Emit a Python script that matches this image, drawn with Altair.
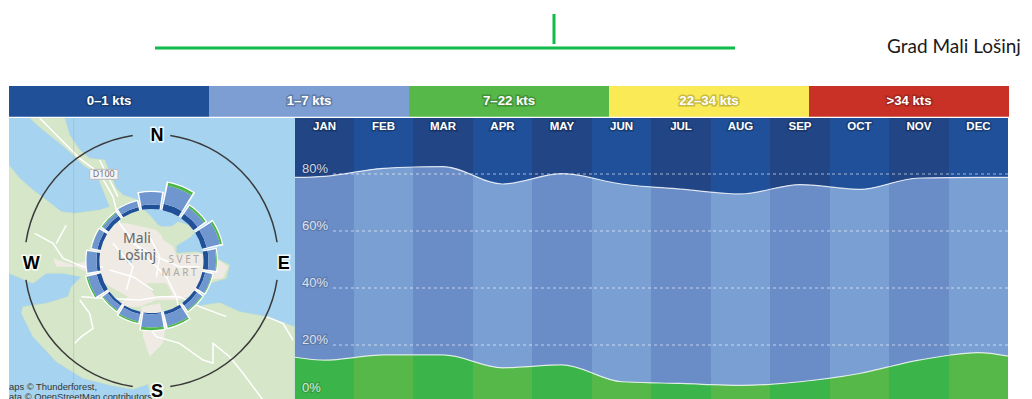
import altair as alt
import pandas as pd

# ---------- values ----------
months = ["JAN","FEB","MAR","APR","MAY","JUN","JUL","AUG","SEP","OCT","NOV","DEC"]
month_pos = [0.5,1,2,3,4,5,6,7,8,9,10,11,12,12.5]
upper_pct = [78.8,79.2,82.0,82.6,76.5,80.1,76.5,74.7,73.0,76.3,74.6,78.6,78.8,78.8]
green_pct = [15.7,14.7,16.5,16.5,12.0,13.0,7.1,6.5,5.8,7.1,10.0,14.7,17.3,16.1]
band_widths = [59,59,60,59,60,59,60,59,60,59,60,59]
grid_pct = [20,40,60,80]
pct_labels = ["0%","20%","40%","60%","80%"]
pct_label_y = [4.9,21.8,41.8,61.8,81.8]

legend_labels = ["0–1 kts","1–7 kts","7–22 kts","22–34 kts",">34 kts"]
legend_colors = ["#205097","#7c9ed2","#55b848","#faea55","#c93026"]

directions = ["N","NNE","NE","ENE","E","ESE","SE","SSE","S","SSW","SW","WSW","W","WNW","NW","NNW"]
rose_calm  = [4.5,6.5,5.5,5,5,3,3.5,3.5,1.2,2.5,2.5,4.5,3,3.5,4,3.5]
rose_light = [12.5,18.5,7.5,13.5,7.5,6.5,5.5,11.5,13.3,7.5,5.5,9,10,5.5,3.5,6]
rose_fresh = [0,3,2,2,0.8,0.8,1,1.8,2.7,1.5,1,1.5,0,0.3,1,0]

# map outlines, in a 3x drawing grid of the map tile
land_ring = [(90,24),(195,24),(210,75),(240,120),(270,145),(315,150),(335,200),(350,235),(370,255),(415,270),
    (430,298),(450,315),(475,345),(505,358),(535,335),(565,345),(585,370),(530,405),(530,430),(590,425),(640,440),
    (690,465),(680,505),(630,520),(600,555),(545,575),(580,590),(660,578),(720,605),(800,620),(885,650),(885,870),
    (455,870),(445,822),(400,838),(330,825),(250,805),(170,755),(100,680),(65,610),(70,590),(140,580),(205,560),
    (215,530),(245,500),(190,490),(140,490),(100,520),(28,490),(28,165),(60,205),(100,240),(140,270),(185,305),
    (225,310),(300,300),(330,290),(310,240),(290,190),(250,165),(215,130),(175,95),(130,60),(90,24)]
urban_ring = [(310,340),(380,340),(470,360),(520,410),(530,435),(600,430),(650,445),(685,470),(670,505),(620,510),
    (590,550),(540,570),(470,570),(420,590),(340,590),(310,560),(290,500),(230,470),(170,470),(160,445),(220,465),
    (300,440),(310,340)]
urban_south_ring = [(425,590),(480,580),(500,640),(490,700),(450,740),(430,680),(425,590)]
green_patches = [
    [(480,350),(590,345),(575,380),(525,410),(490,390),(480,350)],
    [(315,520),(385,560),(345,592),(300,565),(315,520)],
    [(440,520),(500,520),(520,555),(470,565),(440,520)],
]
pond_ring = [(380,445),(395,445),(398,458),(383,460),(380,445)]
sign_ring = [(270,178),(355,178),(355,208),(270,208),(270,178)]
roads = [
    [(120,24),(180,85),(240,145),(300,190),(340,260),(360,340),(420,420),(500,500),(530,560),(540,610)],
    [(300,150),(330,210),(355,260)],
    [(105,370),(160,400),(190,445),(250,470),(310,470)],
    [(240,570),(270,610),(280,655),(245,680),(225,700)],
    [(245,560),(310,565),(420,570),(480,560),(540,560),(600,590),(680,620)],
    [(440,640),(470,680),(540,700),(610,750),(640,760),(640,700),(690,740),(730,790),(790,870)],
    [(800,620),(850,640),(880,690)],
    [(400,400),(470,440),(540,470),(600,470)],
    [(330,480),(400,500),(460,540)],
    [(200,345),(170,400)],
    [(340,400),(400,470),(380,540)],
    [(450,380),(480,440),(470,500)],
]
seam = [[(222,24),(222,867)]]
map_labels = ["Mali","Lošinj","S V E T","M A R T","D100"]
map_label_x = [412,412,552,538,312]
map_label_y = [388,438,450,488,193]
map_label_size = [14,14,10,10,9]
map_label_color = ["#666666","#666666","#a9a9a9","#a9a9a9","#777777"]
compass = ["N","E","S","W"]
compass_x = [472,852,472,95]
compass_y = [77,462,845,462]
credit = ["aps © Thunderforest,","ata © OpenStreetMap contributors"]
credit_y = [832,860]

# ---------- map + rose panel ----------
MAP_W, MAP_H = 286, 281
proj = dict(type="identity", scale=1/3, translate=[-9.33, -8])

def geo(geometry):
    return alt.Data(values=[{"type": "Feature", "properties": {}, "geometry": geometry}])

def poly(*rings):
    return geo({"type": "MultiPolygon", "coordinates": [[[list(p) for p in r]] for r in rings]})

def lines(ls):
    return geo({"type": "MultiLineString", "coordinates": [[list(p) for p in l] for l in ls]})

water = alt.Chart(pd.DataFrame({"a":[0],"b":[1]})).mark_rect(color="#a6d3ef").encode(
    x=alt.value(0), x2=alt.value(MAP_W), y=alt.value(0), y2=alt.value(MAP_H))
land = alt.Chart(poly(land_ring)).mark_geoshape(fill="#d6e6c8", stroke="#cfe2c0", strokeWidth=0.5, clip=True).project(**proj)
urban = alt.Chart(poly(urban_ring, urban_south_ring)).mark_geoshape(fill="#efebe4", clip=True).project(**proj)
greens = alt.Chart(poly(*green_patches)).mark_geoshape(fill="#d6e6c8", clip=True).project(**proj)
pond = alt.Chart(poly(pond_ring)).mark_geoshape(fill="#a6d3ef", clip=True).project(**proj)
road = alt.Chart(lines(roads)).mark_geoshape(filled=False, stroke="#ffffff", strokeWidth=1.5, clip=True).project(**proj)
seam_l = alt.Chart(lines(seam)).mark_geoshape(filled=False, stroke="#7f9fb5", strokeWidth=0.6, strokeOpacity=0.5, clip=True).project(**proj)
sign = alt.Chart(poly(sign_ring)).mark_geoshape(fill="#f4f4f4", stroke="#bbbbbb", strokeWidth=1, clip=True).project(**proj)

ml = pd.DataFrame({"t":map_labels,"x":map_label_x,"y":map_label_y,"s":map_label_size,"c":map_label_color})
map_text = alt.Chart(ml).mark_text(font="Noto Sans").encode(
    longitude="x:Q", latitude="y:Q", text="t:N",
    size=alt.Size("s:Q", scale=None, legend=None), color=alt.Color("c:N", scale=None, legend=None)).project(**proj)

CX, CY = 142.5, 143
theta_s = alt.Scale(domain=[0,360], range=[0,6.28318])
rad_s = alt.Scale(type="linear", domain=[0,40], range=[52,92], clamp=False)

rows = []
for i,d in enumerate(directions):
    c = i*22.5 - 0.8
    a,b,g = rose_calm[i], rose_light[i], rose_fresh[i]
    rows.append(dict(d=d, t0=c-9.6, t1=c+9.6, h0=c-10.9, h1=c+10.9, r0=0, r1=a, r2=a+b, r3=a+b+g, halo=a+b+g+1.2))
rose = pd.DataFrame(rows)

def arc(df, color, t0, t1, r0, r1):
    return alt.Chart(df).mark_arc(color=color).encode(
        x=alt.value(CX), y=alt.value(CY),
        theta=alt.Theta(f"{t0}:Q", scale=theta_s, stack=None), theta2=f"{t1}:Q",
        radius=alt.Radius(f"{r0}:Q", scale=rad_s, stack=None), radius2=f"{r1}:Q")

rose_layers = [
    arc(rose, "#ffffff", "h0", "h1", "r0", "halo"),
    arc(rose, "#205097", "t0", "t1", "r0", "r1"),
    arc(rose, "#6f96cf", "t0", "t1", "r1", "r2"),
    arc(rose[rose.r3 > rose.r2], "#4cb748", "t0", "t1", "r2", "r3"),
]
ring_df = pd.DataFrame({"a":[0],"b":[360],"r0":[-2.6],"r1":[-0.8],"w0":[-0.8],"w1":[0]})
outer_df = pd.DataFrame({"a":[8.5,98.5,188.5,278.5],"b":[81.5,171.5,261.5,351.5],"r0":[74.2]*4,"r1":[75.7]*4})
rose_layers += [arc(ring_df, "#ffffff", "a", "b", "w0", "w1"),
                arc(ring_df, "#2b2b2b", "a", "b", "r0", "r1"),
                arc(outer_df, "#3a3a3a", "a", "b", "r0", "r1")]

cp = pd.DataFrame({"t":compass,"x":compass_x,"y":compass_y})
comp_h = alt.Chart(cp).mark_text(font="Liberation Sans", fontWeight="bold", fontSize=18, stroke="#ffffff", strokeWidth=3, strokeOpacity=0.85, color="#ffffff").encode(
    longitude="x:Q", latitude="y:Q", text="t:N").project(**proj)
comp_t = alt.Chart(cp).mark_text(font="Liberation Sans", fontWeight="bold", fontSize=18, color="#000000").encode(
    longitude="x:Q", latitude="y:Q", text="t:N").project(**proj)
cr = pd.DataFrame({"t":credit,"x":[28,28],"y":credit_y})
credit_t = alt.Chart(cr).mark_text(font="Liberation Sans", fontSize=9.4, color="#333333", align="left").encode(
    longitude="x:Q", latitude="y:Q", text="t:N").project(**proj)

map_panel = alt.layer(water, land, urban, greens, pond, road, seam_l, sign, map_text, *rose_layers, credit_t, comp_h, comp_t).properties(width=MAP_W, height=MAP_H)

# ---------- monthly panels ----------
series = pd.DataFrame({"m":month_pos,"upper":upper_pct,"green":green_pct,"full":[100]*len(month_pos),"low":[0]*len(month_pos)})
y_s = alt.Scale(domain=[1.05,99.65])
ODD = ("#224586","#6b8dc7","#3bb54a")
EVEN = ("#1f5099","#7a9fd3","#55b848")

def month_panel(i):
    cols = ODD if i % 2 == 0 else EVEN
    x_s = alt.Scale(domain=[i+0.5,i+1.5], nice=False, zero=False)
    base = alt.Chart(series)
    X = alt.X("m:Q", scale=x_s, axis=None)
    Y = lambda f: alt.Y(f"{f}:Q", scale=y_s, axis=None)
    ls = [
        base.mark_area(color=cols[0], interpolate="monotone", clip=True).encode(x=X, y=Y("full"), y2="upper:Q"),
        base.mark_area(color=cols[1], interpolate="monotone", clip=True).encode(x=X, y=Y("upper"), y2="green:Q"),
        base.mark_area(color=cols[2], interpolate="monotone", clip=True).encode(x=X, y=Y("green"), y2="low:Q"),
        base.mark_line(color="#ffffff", strokeOpacity=0.75, strokeWidth=1.2, interpolate="monotone", clip=True).encode(x=X, y=Y("upper")),
        base.mark_line(color="#ffffff", strokeOpacity=0.75, strokeWidth=1.2, interpolate="monotone", clip=True).encode(x=X, y=Y("green")),
    ]
    g = alt.Chart(pd.DataFrame({"p":grid_pct}))
    rule_enc = dict(y=alt.Y("p:Q", scale=y_s, axis=None))
    if i == 0:
        rule_enc.update(x=alt.value(38), x2=alt.value(band_widths[0]))
    ls.append(g.mark_rule(color="#ffffff", strokeOpacity=0.6, strokeWidth=1.2, strokeDash=[3,3]).encode(**rule_enc))
    if i == 0:
        pl = alt.Chart(pd.DataFrame({"t":pct_labels,"p":pct_label_y}))
        ls.append(pl.mark_text(font="Liberation Sans", fontSize=13, align="left", color="#000000", opacity=0.12, stroke="#000000", strokeWidth=2.5).encode(
            x=alt.value(7), y=alt.Y("p:Q", scale=y_s, axis=None), text="t:N"))
        ls.append(pl.mark_text(font="Liberation Sans", fontSize=13, align="left", color="#ffffff", opacity=0.78).encode(
            x=alt.value(7), y=alt.Y("p:Q", scale=y_s, axis=None), text="t:N"))
    mt = alt.Chart(pd.DataFrame({"t":[months[i]],"m":[i+1],"p":[96.5]}))
    tx = dict(x=alt.X("m:Q", scale=x_s, axis=None), y=alt.Y("p:Q", scale=y_s, axis=None), text="t:N")
    ls.append(mt.mark_text(font="Liberation Sans", fontWeight="bold", fontSize=11.5, color="#000000", opacity=0.22, stroke="#000000", strokeWidth=3).encode(**tx))
    ls.append(mt.mark_text(font="Liberation Sans", fontWeight="bold", fontSize=11.5, color="#ffffff").encode(**tx))
    return alt.layer(*ls).properties(width=band_widths[i], height=MAP_H)

panels = [month_panel(i) for i in range(12)]
bottom = alt.hconcat(map_panel, *panels, spacing=0, bounds="flush")

# ---------- legend strip ----------
leg = pd.DataFrame({"t":legend_labels,"c":legend_colors,"a":[0,200,400,600,800],"b":[200,400,600,800,1000],"m":[100,300,500,700,900]})
lx = alt.Scale(domain=[0,1000], nice=False, zero=False)
leg_bars = alt.Chart(leg).mark_rect().encode(
    x=alt.X("a:Q", scale=lx, axis=None), x2="b:Q", y=alt.value(0), y2=alt.value(30.7),
    color=alt.Color("c:N", scale=None, legend=None))
leg_glow = alt.Chart(leg).mark_text(font="Liberation Sans", fontWeight="bold", fontSize=13.2, color="#000000", opacity=0.2, stroke="#000000", strokeWidth=3).encode(
    x=alt.X("m:Q", scale=lx, axis=None), y=alt.value(14.5), text="t:N")
leg_text = alt.Chart(leg).mark_text(font="Liberation Sans", fontWeight="bold", fontSize=13.2, color="#ffffff").encode(
    x=alt.X("m:Q", scale=lx, axis=None), y=alt.value(14.5), text="t:N")
legend = alt.layer(leg_bars, leg_glow, leg_text).properties(width=1000, height=32)

# ---------- header ----------
head_h = pd.DataFrame({"a":[146],"b":[726],"y":[40]})
head_v = pd.DataFrame({"x":[545],"y0":[6],"y1":[36]})
head_x = alt.Scale(domain=[0,1000], nice=False, zero=False)
head_y = alt.Scale(domain=[78,0], nice=False, zero=False)
h1 = alt.Chart(head_h).mark_rule(color="#0fbb4a", strokeWidth=3).encode(
    x=alt.X("a:Q", scale=head_x, axis=None), x2="b:Q", y=alt.Y("y:Q", scale=head_y, axis=None))
h2 = alt.Chart(head_v).mark_rule(color="#0fbb4a", strokeWidth=3).encode(
    x=alt.X("x:Q", scale=head_x, axis=None), y=alt.Y("y0:Q", scale=head_y, axis=None), y2="y1:Q")
h3 = alt.Chart(pd.DataFrame({"t":["Grad Mali Lošinj"],"x":[878],"y":[39]})).mark_text(
    font="Lato", fontSize=19, color="#1a1a1a", align="left").encode(
    x=alt.X("x:Q", scale=head_x, axis=None), y=alt.Y("y:Q", scale=head_y, axis=None), text="t:N")
header = alt.layer(h1, h2, h3).properties(width=1000, height=78)

chart = alt.vconcat(header, legend, bottom, spacing=0, bounds="flush").properties(
    padding={"left":1,"top":0,"right":0,"bottom":0}, background="#ffffff"
).configure_view(stroke=None)

chart.save("out.html", embed_options={"renderer": "svg", "actions": False})
